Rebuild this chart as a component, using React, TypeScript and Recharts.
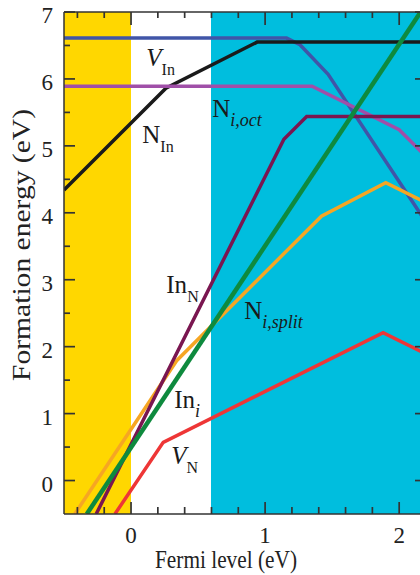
import { LineChart, Line, XAxis, YAxis, CartesianGrid, ReferenceDot, Label } from "recharts";

type Pt = { x: number; y: number };

// formation energy (eV) vs Fermi level (eV)
const vIn: Pt[] = [
  { x: -0.5, y: 6.61 },
  { x: 1.16, y: 6.61 },
  { x: 1.26, y: 6.51 },
  { x: 1.47, y: 6.07 },
  { x: 2.2, y: 3.86 },
];
const nIn: Pt[] = [
  { x: -0.5, y: 4.34 },
  { x: 0.26, y: 5.86 },
  { x: 0.94, y: 6.55 },
  { x: 2.2, y: 6.55 },
];
const niOct: Pt[] = [
  { x: -0.5, y: 5.89 },
  { x: 1.35, y: 5.89 },
  { x: 2.0, y: 5.24 },
  { x: 2.2, y: 4.84 },
];
const niSplit: Pt[] = [
  { x: -0.42, y: -0.5 },
  { x: 0.34, y: 1.79 },
  { x: 1.42, y: 3.95 },
  { x: 1.9, y: 4.45 },
  { x: 2.2, y: 4.15 },
];
const inN: Pt[] = [
  { x: -0.26, y: -0.5 },
  { x: 1.14, y: 5.1 },
  { x: 1.31, y: 5.44 },
  { x: 2.2, y: 5.44 },
];
const inI: Pt[] = [
  { x: -0.33, y: -0.5 },
  { x: 2.16, y: 7.0 },
];
const vN: Pt[] = [
  { x: -0.12, y: -0.5 },
  { x: 0.24, y: 0.57 },
  { x: 1.88, y: 2.21 },
  { x: 2.2, y: 1.89 },
];

const xTicks = [-0.4, -0.2, 0, 0.2, 0.4, 0.6, 0.8, 1, 1.2, 1.4, 1.6, 1.8, 2];
const yTicks = [0, 0.5, 1, 1.5, 2, 2.5, 3, 3.5, 4, 4.5, 5, 5.5, 6, 6.5, 7];
const xDomain = [-0.5, 2.2];
const yDomain = [-0.5, 7];

// background band edges (eV): yellow | white | cyan
const bandEdges = [-0.5, 0, 0.6];
const bandColors = ["#FFD700", "#FFFFFF", "#00BEDE"];

const tags = [
  { main: "V", sub: "In", x: 0.114, y: 6.2, mainItalic: true, subItalic: false },
  { main: "N", sub: "In", x: 0.084, y: 5.05, mainItalic: false, subItalic: false },
  { main: "N", sub: "i,oct", x: 0.605, y: 5.43, mainItalic: false, subItalic: true },
  { main: "In", sub: "N", x: 0.263, y: 2.8, mainItalic: false, subItalic: false },
  { main: "N", sub: "i,split", x: 0.844, y: 2.41, mainItalic: false, subItalic: true },
  { main: "In", sub: "i", x: 0.322, y: 1.09, mainItalic: false, subItalic: true },
  { main: "V", sub: "N", x: 0.3, y: 0.25, mainItalic: true, subItalic: false },
];

const SERIF = '"Liberation Serif", "Times New Roman", Times, "DejaVu Serif", serif';
const AXIS = "#333";

const isMajor = (v: number) => Math.abs(v - Math.round(v)) < 1e-6;

function LeftLabel(props: any) {
  const v = props.payload.value;
  if (!isMajor(v)) return <g />;
  return (
    <text x={props.x - 11} y={props.y + 11} textAnchor="end" fontSize={23} style={{ fontFamily: SERIF }} fill="#222">
      {Math.round(v)}
    </text>
  );
}

function BottomLabel(props: any) {
  const v = props.payload.value;
  if (!isMajor(v)) return <g />;
  return (
    <text x={props.x} y={props.y + 29} textAnchor="middle" fontSize={23} style={{ fontFamily: SERIF }} fill="#222">
      {Math.round(v)}
    </text>
  );
}

// inward tick mark drawn at a data position; dx/dy is the direction into the plot
function TickMark({ cx, cy, dx, dy, len }: any) {
  const x1 = Number(cx);
  const y1 = Number(cy);
  return <line x1={x1} y1={y1} x2={x1 + dx * len} y2={y1 + dy * len} stroke={AXIS} strokeWidth={1.7} />;
}

function Tag({ cx, cy, main, sub, mainItalic, subItalic }: any) {
  return (
    <text x={cx} y={cy} fontSize={25} fill="#1a1a1a" style={{ fontFamily: SERIF }}>
      <tspan fontStyle={mainItalic ? "italic" : "normal"}>{main}</tspan>
      <tspan dy={9} fontSize={subItalic ? 18 : 16} fontStyle={subItalic ? "italic" : "normal"}>
        {sub}
      </tspan>
    </text>
  );
}

export default function App() {
  return (
    <div style={{ position: "fixed", left: 0, top: 0, width: 426, height: 575, background: "#fff" }}>
      <LineChart width={426} height={575} margin={{ top: 0, right: 0, bottom: 0, left: 0 }}>
        <CartesianGrid
          xAxisId="b"
          yAxisId="l"
          horizontal={false}
          vertical
          stroke="transparent"
          verticalValues={bandEdges}
          verticalFill={bandColors}
          fillOpacity={1}
        />
        <XAxis
          xAxisId="b"
          type="number"
          dataKey="x"
          domain={xDomain}
          ticks={xTicks}
          interval={0}
          allowDataOverflow
          height={61}
          tickSize={0}
          tickMargin={0}
          tickLine={false}
          tick={BottomLabel}
          axisLine={{ stroke: AXIS, strokeWidth: 1.5 }}
        >
          <Label
            content={() => (
              <text
                x={155}
                y={568}
                textLength={142}
                lengthAdjust="spacingAndGlyphs"
                fontSize={25}
                style={{ fontFamily: SERIF }}
                fill="#222"
              >
                Fermi level (eV)
              </text>
            )}
          />
        </XAxis>
        <XAxis
          xAxisId="t"
          orientation="top"
          type="number"
          dataKey="x"
          domain={xDomain}
          allowDataOverflow
          height={12}
          tick={false}
          tickLine={false}
          axisLine={{ stroke: AXIS, strokeWidth: 1.5 }}
        />
        <YAxis
          yAxisId="l"
          type="number"
          domain={yDomain}
          ticks={yTicks}
          interval={0}
          allowDataOverflow
          width={64}
          tickSize={0}
          tickMargin={0}
          tickLine={false}
          tick={LeftLabel}
          axisLine={{ stroke: AXIS, strokeWidth: 1.5 }}
        >
          <Label
            content={() => (
              <text
                x={0}
                y={0}
                transform="translate(30 245) rotate(-90)"
                textAnchor="middle"
                textLength={272}
                lengthAdjust="spacingAndGlyphs"
                fontSize={25}
                style={{ fontFamily: SERIF }}
                fill="#222"
              >
                Formation energy (eV)
              </text>
            )}
          />
        </YAxis>
        <YAxis
          yAxisId="r"
          orientation="right"
          type="number"
          domain={yDomain}
          allowDataOverflow
          width={0}
          tick={false}
          tickLine={false}
          axisLine={{ stroke: AXIS, strokeWidth: 1.5 }}
        />

        <Line xAxisId="b" yAxisId="l" data={vIn} dataKey="y" type="linear" stroke="#4055A8" strokeWidth={3.5} dot={false} isAnimationActive={false} />
        <Line xAxisId="b" yAxisId="l" data={nIn} dataKey="y" type="linear" stroke="#1a1a1a" strokeWidth={3.5} dot={false} isAnimationActive={false} />
        <Line xAxisId="b" yAxisId="l" data={niOct} dataKey="y" type="linear" stroke="#A04FA8" strokeWidth={3.5} dot={false} isAnimationActive={false} />
        <Line xAxisId="b" yAxisId="l" data={niSplit} dataKey="y" type="linear" stroke="#F6A623" strokeWidth={3.5} dot={false} isAnimationActive={false} />
        <Line xAxisId="b" yAxisId="l" data={inN} dataKey="y" type="linear" stroke="#7A1650" strokeWidth={3.5} dot={false} isAnimationActive={false} />
        <Line xAxisId="b" yAxisId="l" data={inI} dataKey="y" type="linear" stroke="#0E8A3E" strokeWidth={4.5} dot={false} isAnimationActive={false} />
        <Line xAxisId="b" yAxisId="l" data={vN} dataKey="y" type="linear" stroke="#EE3636" strokeWidth={3.5} dot={false} isAnimationActive={false} />

        {xTicks.map((v) => (
          <ReferenceDot
            key={"b" + v}
            xAxisId="b"
            yAxisId="l"
            x={v}
            y={yDomain[0]}
            r={1}
            ifOverflow="visible"
            shape={(p: any) => <TickMark cx={p.cx} cy={p.cy} dx={0} dy={-1} len={isMajor(v) ? 12 : 7} />}
          />
        ))}
        {xTicks.map((v) => (
          <ReferenceDot
            key={"t" + v}
            xAxisId="b"
            yAxisId="l"
            x={v}
            y={yDomain[1]}
            r={1}
            ifOverflow="visible"
            shape={(p: any) => <TickMark cx={p.cx} cy={p.cy} dx={0} dy={1} len={isMajor(v) ? 13 : 6} />}
          />
        ))}
        {yTicks.map((v) => (
          <ReferenceDot
            key={"l" + v}
            xAxisId="b"
            yAxisId="l"
            x={xDomain[0]}
            y={v}
            r={1}
            ifOverflow="visible"
            shape={(p: any) => <TickMark cx={p.cx} cy={p.cy} dx={1} dy={0} len={isMajor(v) ? 11 : 6} />}
          />
        ))}
        {yTicks.map((v) => (
          <ReferenceDot
            key={"r" + v}
            xAxisId="b"
            yAxisId="l"
            x={xDomain[1]}
            y={v}
            r={1}
            ifOverflow="visible"
            shape={(p: any) => <TickMark cx={p.cx} cy={p.cy} dx={-1} dy={0} len={isMajor(v) ? 11 : 6} />}
          />
        ))}

        {tags.map((t) => (
          <ReferenceDot
            key={t.main + t.sub}
            xAxisId="b"
            yAxisId="l"
            x={t.x}
            y={t.y}
            r={1}
            shape={(p: any) => <Tag cx={p.cx} cy={p.cy} {...t} />}
          />
        ))}
      </LineChart>
    </div>
  );
}
